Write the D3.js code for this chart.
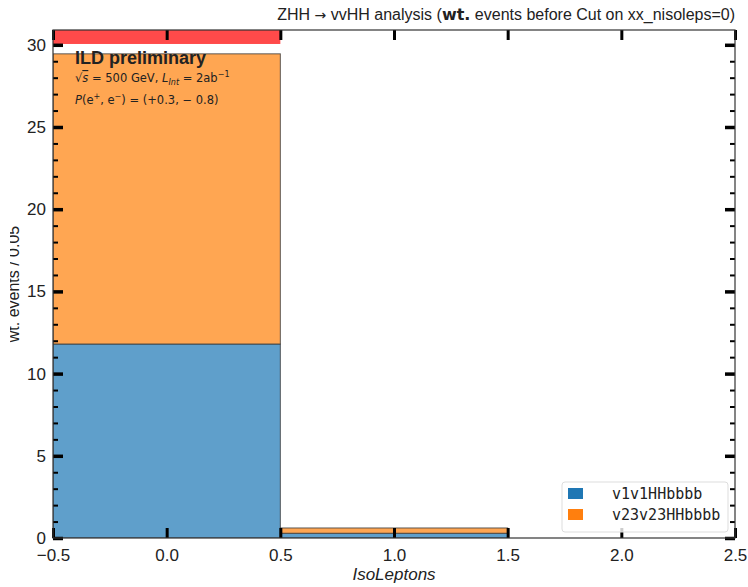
<!DOCTYPE html>
<html>
<head>
<meta charset="utf-8">
<script src="https://cdn.jsdelivr.net/npm/d3@7"></script>
<style>
  body { margin: 0; background: #fff; }
  svg { font-family: "Liberation Sans", Arial, sans-serif; }
</style>
</head>
<body>
<svg id="chart" width="748" height="587"></svg>
<script>
// bins (IsoLeptons), stacked series
const binLo = [-0.5, 0.5]
const binHi = [0.5, 1.5]
const v1v1HHbbbb = [11.8, 0.29]
const v23v23HHbbbb = [17.65, 0.32]
// red band at top of first bin (partly above the frame)
const redLo = [30.05]
const redHi = [32]
const redBinLo = [-0.5]
const redBinHi = [0.5]

const seriesNames = ["v1v1HHbbbb", "v23v23HHbbbb"]
const fillColors = ["#5f9fcb", "#ffa652"]
const legendColors = ["#1f77b4", "#ff7f0e"]

const xTicks = [-0.5, 0.0, 0.5, 1.0, 1.5, 2.0, 2.5]
const yTicks = [0, 5, 10, 15, 20, 25, 30]

const margin = { left: 53, right: 13, top: 30, bottom: 49 }
const W = 748, H = 587
const svg = d3.select("#chart")

const x = d3.scaleLinear().domain([-0.5, 2.5]).range([margin.left, W - margin.right])
const y = d3.scaleLinear().domain([0, 30.9]).range([H - margin.bottom, margin.top])

svg.append("defs").append("clipPath").attr("id", "plotclip")
    .append("rect")
    .attr("x", x(-0.5)).attr("y", y(30.9))
    .attr("width", x(2.5) - x(-0.5)).attr("height", y(0) - y(30.9))

svg.select("defs").append("clipPath").attr("id", "ylabclip")
    .append("rect").attr("x", 10).attr("y", 0).attr("width", 40).attr("height", H)

const plot = svg.append("g").attr("clip-path", "url(#plotclip)")

// stacked bars
const stackData = binLo.map((lo, i) => ({ lo, hi: binHi[i], vals: [v1v1HHbbbb[i], v23v23HHbbbb[i]] }))
seriesNames.forEach((name, s) => {
    plot.selectAll(".bar-" + s)
        .data(stackData)
        .join("rect")
        .attr("x", d => x(d.lo))
        .attr("width", d => x(d.hi) - x(d.lo))
        .attr("y", d => y(d3.sum(d.vals.slice(0, s + 1))))
        .attr("height", d => y(d3.sum(d.vals.slice(0, s))) - y(d3.sum(d.vals.slice(0, s + 1))))
        .attr("fill", fillColors[s])
        .attr("stroke", "#3a3a3a")
        .attr("stroke-opacity", 0.8)
        .attr("stroke-width", 1)
})

plot.selectAll(".red")
    .data(redLo)
    .join("rect")
    .attr("x", (d, i) => x(redBinLo[i]))
    .attr("width", (d, i) => x(redBinHi[i]) - x(redBinLo[i]))
    .attr("y", (d, i) => y(redHi[i]))
    .attr("height", (d, i) => y(d) - y(redHi[i]))
    .attr("fill", "#ff4a4a")

// axes: bottom, top, left, right with inward ticks
const fmtX = d => d3.format(".1f")(d).replace("-", "\u2212")
const xBottom = d3.axisBottom(x).tickValues(xTicks).tickSize(-10).tickPadding(11).tickFormat(fmtX)
const xTop = d3.axisTop(x).tickValues(xTicks).tickSize(-10).tickFormat("")
const yLeft = d3.axisLeft(y).tickValues(yTicks).tickSize(-10).tickPadding(7).tickFormat(d3.format("d"))
const yRight = d3.axisRight(y).tickValues(yTicks).tickSize(-10).tickFormat("")
const minorY = d3.range(0, 31).filter(v => v % 5 !== 0)
const yLeftMinor = d3.axisLeft(y).tickValues(minorY).tickSize(-5).tickFormat("")
const yRightMinor = d3.axisRight(y).tickValues(minorY).tickSize(-5).tickFormat("")

function styleAxis(g, w) {
    g.select(".domain").remove()
    g.selectAll(".tick line").attr("stroke", "#000").attr("stroke-width", w)
    g.selectAll(".tick text").attr("font-size", 17).attr("fill", "#222")
        .attr("font-family", "'Liberation Sans', Arial, sans-serif")
}

svg.append("g").attr("transform", `translate(0,${y(0)})`).call(xBottom).call(g => styleAxis(g, 3))
svg.append("g").attr("transform", `translate(0,${y(30.9)})`).call(xTop).call(g => styleAxis(g, 3))
svg.append("g").attr("transform", `translate(${x(-0.5)},0)`).call(yLeftMinor).call(g => styleAxis(g, 2))
svg.append("g").attr("transform", `translate(${x(2.5)},0)`).call(yRightMinor).call(g => styleAxis(g, 2))
svg.append("g").attr("transform", `translate(${x(-0.5)},0)`).call(yLeft).call(g => styleAxis(g, 3.5))
svg.append("g").attr("transform", `translate(${x(2.5)},0)`).call(yRight).call(g => styleAxis(g, 3.5))

// frame
svg.append("rect")
    .attr("x", x(-0.5)).attr("y", y(30.9))
    .attr("width", x(2.5) - x(-0.5)).attr("height", y(0) - y(30.9))
    .attr("fill", "none").attr("stroke", "#333").attr("stroke-width", 1.2)

// title
const title = svg.append("text")
    .attr("x", 735).attr("y", 20).attr("text-anchor", "end")
    .attr("font-size", 16).attr("fill", "#222")
title.append("tspan").text("ZHH ")
title.append("tspan").attr("font-family", "'DejaVu Sans', sans-serif").attr("font-size", 14).text("\u2192")
title.append("tspan").text(" vvHH analysis (")
title.append("tspan").attr("font-weight", "bold").attr("font-family", "'DejaVu Sans', sans-serif").text("wt.")
title.append("tspan").text("  events before Cut on xx_nisoleps=0)")

// axis labels
svg.append("text")
    .attr("x", (x(-0.5) + x(2.5)) / 2).attr("y", 580)
    .attr("text-anchor", "middle").attr("font-size", 17).attr("font-style", "italic")
    .attr("fill", "#222").text("IsoLeptons")

svg.append("g").attr("clip-path", "url(#ylabclip)")
    .append("text")
    .attr("transform", `translate(19,${y(15.45)}) rotate(-90)`)
    .attr("text-anchor", "middle").attr("font-size", 16).attr("fill", "#222")
    .text("wt. events / 0.05")

// ILD label
svg.append("text").attr("x", 75).attr("y", 64)
    .attr("font-size", 18).attr("font-weight", "bold").attr("fill", "#222")
    .text("ILD preliminary")

const l1 = svg.append("text").attr("x", 75).attr("y", 82)
    .attr("font-size", 11.5).attr("fill", "#222").attr("font-family", "'DejaVu Sans', sans-serif")
l1.append("tspan").text("\u221A")
l1.append("tspan").attr("font-style", "italic").attr("text-decoration", "overline").text("s")
l1.append("tspan").text(" = 500 GeV, ")
l1.append("tspan").attr("font-style", "italic").text("L")
l1.append("tspan").attr("font-style", "italic").attr("font-size", 8).attr("dy", 3).text("Int")
l1.append("tspan").attr("dy", -3).text(" = 2ab")
l1.append("tspan").attr("font-size", 8).attr("dy", -5).text("\u22121")

const l2 = svg.append("text").attr("x", 75).attr("y", 104)
    .attr("font-size", 11.5).attr("fill", "#222").attr("font-family", "'DejaVu Sans', sans-serif")
l2.append("tspan").attr("font-style", "italic").text("P")
l2.append("tspan").text("(e")
l2.append("tspan").attr("font-size", 8).attr("dy", -5).text("+")
l2.append("tspan").attr("dy", 5).text(", e")
l2.append("tspan").attr("font-size", 8).attr("dy", -5).text("\u2212")
l2.append("tspan").attr("dy", 5).text(") = (+0.3, \u2212 0.8)")

// legend
const lg = svg.append("g").attr("transform", "translate(562,482)")
lg.append("rect").attr("width", 166).attr("height", 50).attr("rx", 3)
    .attr("fill", "#fff").attr("fill-opacity", 0.8).attr("stroke", "#ddd")
seriesNames.forEach((name, i) => {
    lg.append("rect").attr("x", 6).attr("y", 6 + i * 21).attr("width", 15).attr("height", 11)
        .attr("fill", legendColors[i])
    lg.append("text").attr("x", 50).attr("y", 17 + i * 21)
        .attr("font-size", 15).attr("font-family", "'DejaVu Sans Mono', monospace").attr("fill", "#222")
        .text(name)
})
</script>
</body>
</html>
